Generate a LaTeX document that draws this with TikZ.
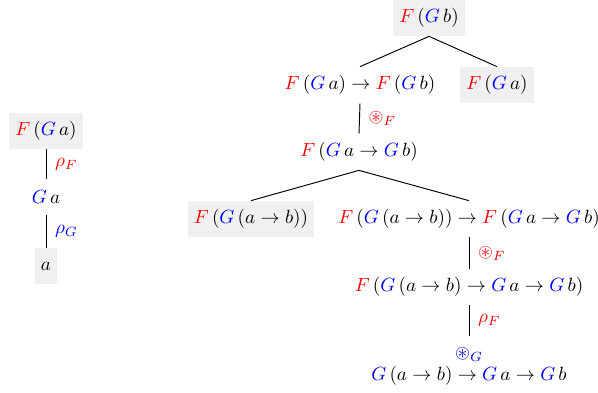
\documentclass[tikz,border=0pt]{standalone}
\usepackage{amssymb}
\definecolor{boxgray}{RGB}{240,240,240}
\newcommand{\rF}{{\color{red}F}}
\newcommand{\bG}{{\color{blue}G}}
\begin{document}
\begin{tikzpicture}[x=0.523pt,y=-0.523pt,
  term/.style={inner xsep=3.3pt,inner ysep=0pt,minimum height=18.8pt},
  boxed/.style={term,fill=boxgray},
  lab/.style={right,inner sep=0pt,xshift=4.5pt},
  edge/.style={draw=black,line width=0.5pt}]
\useasboundingbox (0,0) rectangle (598,392);
% left derivation
\node[boxed] (n1) at (46,131) {$\rF\,(\bG\,a)$};
\node[term] (n2) at (46,197) {$\bG\,a$};
\node[boxed] (n3) at (46,266) {$a$};
\draw[edge] (n1.south) -- node[lab,text=red] {$\rho_F$} (n2.north);
\draw[edge] (n2.south) -- node[lab,text=blue] {$\rho_G$} (n3.north);
% right derivation
\node[boxed] (t1) at (429,18) {$\rF\,(\bG\,b)$};
\node[term] (t2) at (360,85) {$\rF\,(\bG\,a)\to\rF\,(\bG\,b)$};
\node[boxed] (t3) at (497,85) {$\rF\,(\bG\,a)$};
\node[term] (t4) at (359,152) {$\rF\,(\bG\,a\to\bG\,b)$};
\node[boxed] (t5) at (251,219) {$\rF\,(\bG\,(a\to b))$};
\node[term] (t6) at (469,219) {$\rF\,(\bG\,(a\to b))\to\rF\,(\bG\,a\to\bG\,b)$};
\node[term] (t7) at (469,287) {$\rF\,(\bG\,(a\to b)\to\bG\,a\to\bG\,b)$};
\node[term] (t8) at (469,376) {$\bG\,(a\to b)\to\bG\,a\to\bG\,b$};
\node[term,text=blue] (t8l) at (469,354) {$\circledast_G$};
\draw[edge] (t1.south) -- (t2.north);
\draw[edge] (t1.south) -- (t3.north);
\draw[edge] (t2.south) -- node[lab,text=red] {$\circledast_F$} (t4.north);
\draw[edge] (t4.south) -- (t5.north);
\draw[edge] (t4.south) -- (t6.north);
\draw[edge] (t6.south) -- node[lab,text=red] {$\circledast_F$} (t7.north);
\draw[edge] (t7.south) -- node[lab,text=red] {$\rho_F$} (t8l.north);
\end{tikzpicture}
\end{document}
